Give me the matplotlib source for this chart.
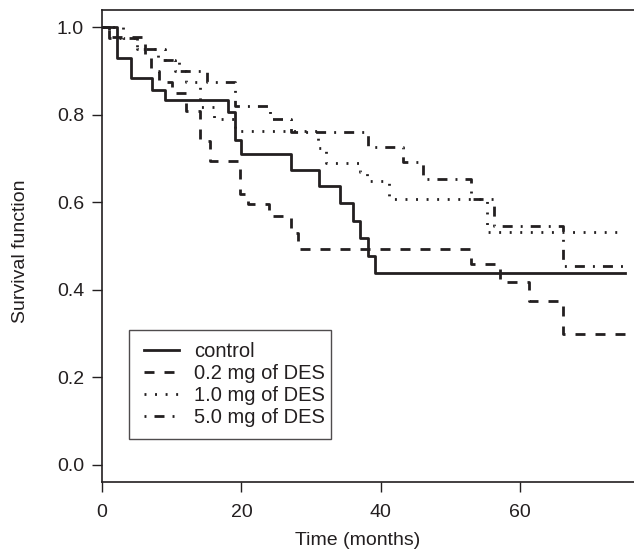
import matplotlib
matplotlib.use("Agg")
import matplotlib.pyplot as plt
from matplotlib.legend_handler import HandlerLine2D

plt.rcParams['font.family'] = ['Liberation Sans', 'DejaVu Sans']
plt.rcParams['lines.scale_dashes'] = False

ink = '#231f20'

# step times (months) and survival values after each step
control_t = [0, 2.2, 4.1, 7.1, 9.1, 18.1, 19.1, 20.0, 27.1, 31.1, 34.1, 36.0, 37.0, 38.1, 39.1, 75]
control_s = [1.0, 0.930, 0.884, 0.857, 0.834, 0.806, 0.742, 0.710, 0.675, 0.638, 0.598, 0.558, 0.518, 0.478, 0.438, 0.438]

des02_t = [0, 1.0, 6.2, 7.0, 8.1, 10.0, 12.0, 14.1, 15.5, 19.8, 21.0, 24.0, 27.1, 28.1, 53.0, 57.1, 61.2, 66.2, 75]
des02_s = [1.0, 0.978, 0.933, 0.900, 0.876, 0.851, 0.810, 0.740, 0.695, 0.620, 0.597, 0.569, 0.530, 0.494, 0.458, 0.418, 0.375, 0.300, 0.300]

des10_t = [0, 3.0, 5.0, 9.1, 10.5, 12.0, 14.0, 16.1, 19.1, 31.0, 32.1, 37.0, 38.0, 41.1, 55.2, 75]
des10_s = [1.0, 0.976, 0.951, 0.925, 0.900, 0.875, 0.819, 0.790, 0.763, 0.725, 0.690, 0.669, 0.648, 0.608, 0.532, 0.532]

des50_t = [0, 1.0, 5.0, 8.0, 11.0, 15.1, 19.1, 24.1, 27.1, 38.1, 43.2, 46.1, 53.0, 56.2, 66.1, 75]
des50_s = [1.0, 0.976, 0.951, 0.925, 0.900, 0.875, 0.820, 0.790, 0.761, 0.727, 0.692, 0.654, 0.608, 0.546, 0.455, 0.455]

labels = ['control', '0.2 mg of DES', '1.0 mg of DES', '5.0 mg of DES']
x_ticks = [0, 20, 40, 60]
y_ticks = [0.0, 0.2, 0.4, 0.6, 0.8, 1.0]

fig = plt.figure(figsize=(6.34, 5.53), dpi=100)
# the frame runs slightly past the right edge of the picture
ax = fig.add_axes([0.161, 0.128, 0.8486, 0.854])

lw = 2.0
ax.step(control_t, control_s, where='post', color=ink, lw=lw, label=labels[0])
ax.step(des02_t, des02_s, where='post', color=ink, lw=lw, dashes=(7.2, 7.2), label=labels[1])
ax.step(des10_t, des10_s, where='post', color=ink, lw=lw, dashes=(1.4, 6.2), label=labels[2])
ax.step(des50_t, des50_s, where='post', color=ink, lw=lw, dashes=(1.4, 5.8, 7.2, 5.8), label=labels[3])

ax.set_xlim(0, 77.2)
ax.set_ylim(-0.04, 1.04)
ax.set_xticks(x_ticks)
ax.set_yticks(y_ticks)
ax.set_yticklabels(['%.1f' % v for v in y_ticks])
ax.tick_params(direction='out', length=7, width=1, colors=ink, labelsize=14)
ax.tick_params(axis='x', pad=9)
ax.tick_params(axis='y', pad=6)
for sp in ax.spines.values():
    sp.set_color(ink)
    sp.set_linewidth(1.2)

ax.set_xlabel('Time (months)', fontsize=14, color=ink)
ax.set_ylabel('Survival function', fontsize=14, color=ink)
ax.xaxis.set_label_coords(0.475, -0.106)
ax.yaxis.set_label_coords(-0.135, 0.49)

# small xpad pushes the legend sample lines a bit to the right
hmap = {}
for ln in ax.get_lines():
    hmap[ln] = HandlerLine2D(xpad=0.14)
leg = ax.legend(loc='upper left', bbox_to_anchor=(0.2035, 0.4033, 0.3186, 0.0),
                bbox_transform=fig.transFigure, mode='expand', borderaxespad=0,
                fontsize=14.5, frameon=True, fancybox=False, handlelength=1.88,
                handletextpad=0.745, labelspacing=0.15, borderpad=0.6, handler_map=hmap)
leg.get_frame().set_edgecolor(ink)
leg.get_frame().set_linewidth(1.0)
for t in leg.get_texts():
    t.set_color(ink)

fig.savefig('out.png', dpi=100)
